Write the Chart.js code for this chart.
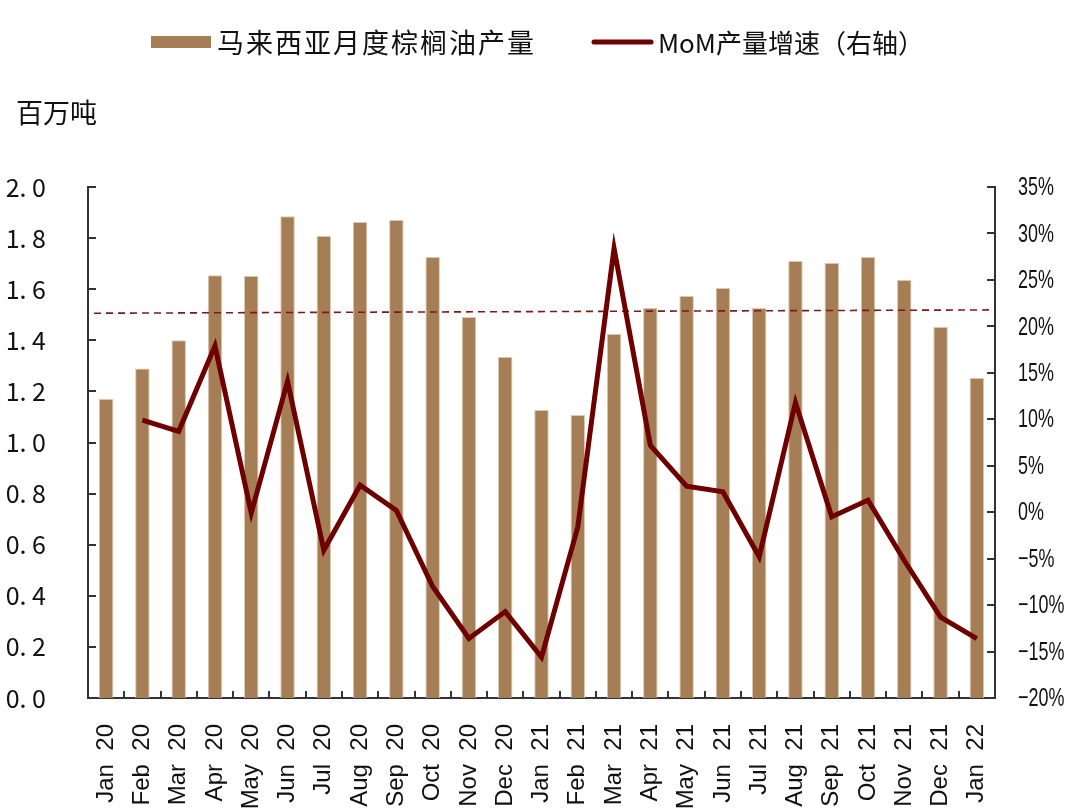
<!DOCTYPE html>
<html>
<head>
<meta charset="utf-8">
<script src="https://cdn.jsdelivr.net/npm/chart.js@4"></script>
<style>
  html, body { margin: 0; padding: 0; background: #fff; }
  #wrap { width: 1080px; height: 808px; }
</style>
</head>
<body>
<div id="wrap"><canvas id="myChart" width="1080" height="808"></canvas></div>
<script>
const months = ["Jan 20", "Feb 20", "Mar 20", "Apr 20", "May 20", "Jun 20", "Jul 20", "Aug 20", "Sep 20", "Oct 20", "Nov 20", "Dec 20",
  "Jan 21", "Feb 21", "Mar 21", "Apr 21", "May 21", "Jun 21", "Jul 21", "Aug 21", "Sep 21", "Oct 21", "Nov 21", "Dec 21", "Jan 22"];

// 马来西亚月度棕榈油产量, 百万吨
const output = [1.17, 1.29, 1.40, 1.655, 1.652, 1.886, 1.808, 1.863, 1.871, 1.726, 1.491, 1.335,
  1.127, 1.108, 1.425, 1.526, 1.573, 1.605, 1.526, 1.710, 1.703, 1.726, 1.636, 1.452, 1.252];

// MoM产量增速, %
const mom = [null, 9.9, 8.7, 17.9, -0.1, 14.1, -4.1, 2.9, 0.2, -8.0, -13.6, -10.7,
  -15.6, -1.6, 28.4, 7.2, 2.8, 2.2, -4.8, 11.8, -0.5, 1.3, -5.2, -11.3, -13.6];

// dashed reference line (left axis), start and end value
const refLine = [1.506, 1.519];

const leftTicks = [0, 0.2, 0.4, 0.6, 0.8, 1.0, 1.2, 1.4, 1.6, 1.8, 2.0];
const rightTicks = [-20, -15, -10, -5, 0, 5, 10, 15, 20, 25, 30, 35];

const barColor = "#a57e56";
const lineColor = "#6e0000";
const axisColor = "#333333";
const cjk = "'Noto Sans CJK SC', 'DejaVu Sans', sans-serif";
const latin = "'Liberation Sans', Arial, sans-serif";

function pctLabel(v) {
  return (v < 0 ? "\u2212" : "") + Math.abs(v) + "%";
}

const extras = {
  id: "extras",
  afterDatasetDraw(chart, args) {
    // dashed line sits between bars and the MoM line
    if (args.index !== 0) return;
    const { ctx, chartArea } = chart;
    const y = chart.scales.y;
    ctx.save();
    ctx.strokeStyle = "#7a1a1a";
    ctx.lineWidth = 1.6;
    ctx.setLineDash([7, 5]);
    ctx.beginPath();
    ctx.moveTo(chartArea.left + 6, y.getPixelForValue(refLine[0]));
    ctx.lineTo(chartArea.right, y.getPixelForValue(refLine[1]));
    ctx.stroke();
    ctx.restore();
  },
  afterDraw(chart) {
    const { ctx, chartArea } = chart;
    const x = chart.scales.x;
    const y = chart.scales.y;
    const y2 = chart.scales.y2;
    ctx.save();
    ctx.strokeStyle = axisColor;
    ctx.lineWidth = 2;
    ctx.beginPath();
    // left ticks, pointing in
    leftTicks.forEach((v) => {
      const py = Math.round(y.getPixelForValue(v));
      ctx.moveTo(chartArea.left, py);
      ctx.lineTo(chartArea.left + 8, py);
    });
    // right ticks, pointing in
    rightTicks.forEach((v) => {
      const py = Math.round(y2.getPixelForValue(v));
      ctx.moveTo(chartArea.right, py);
      ctx.lineTo(chartArea.right - 8, py);
    });
    // x ticks between categories, pointing up
    const step = (x.right - x.left) / months.length;
    for (let i = 0; i <= months.length; i++) {
      const px = Math.round(x.left + step * i);
      ctx.moveTo(px, chartArea.bottom);
      ctx.lineTo(px, chartArea.bottom - 7);
    }
    ctx.stroke();

    // right axis labels, condensed like the original
    ctx.fillStyle = "#111";
    ctx.font = "26px " + latin;
    ctx.textBaseline = "middle";
    ctx.textAlign = "left";
    rightTicks.forEach((v) => {
      ctx.save();
      ctx.translate(chartArea.right + 23, y2.getPixelForValue(v) + 1);
      ctx.scale(0.69, 1);
      ctx.fillText(pctLabel(v), 0, 0);
      ctx.restore();
    });

    // unit label
    ctx.font = "27px " + cjk;
    ctx.fillText("百万吨", 16, 113);

    // legend
    const ds = chart.data.datasets;
    ctx.font = "27px " + cjk;
    ctx.fillStyle = ds[0].backgroundColor;
    ctx.fillRect(151, 36, 60, 12);
    ctx.fillStyle = "#111";
    ctx.letterSpacing = "2px";
    ctx.fillText(ds[0].label, 217, 43);
    ctx.letterSpacing = "0px";
    ctx.strokeStyle = ds[1].borderColor;
    ctx.lineWidth = 5;
    ctx.lineCap = "round";
    ctx.beginPath();
    ctx.moveTo(594, 42);
    ctx.lineTo(651, 42);
    ctx.stroke();
    ctx.font = "26px " + cjk;
    ctx.fillText(ds[1].label, 658, 43);
    ctx.restore();
  },
};

new Chart("myChart", {
  type: "bar",
  data: {
    labels: months,
    datasets: [
      {
        type: "bar",
        label: "马来西亚月度棕榈油产量",
        data: output,
        yAxisID: "y",
        backgroundColor: barColor,
        borderColor: "#dcc8b0",
        borderWidth: 1,
        barPercentage: 0.4,
        categoryPercentage: 1,
        order: 2,
      },
      {
        type: "line",
        label: "MoM产量增速（右轴）",
        data: mom,
        yAxisID: "y2",
        borderColor: lineColor,
        backgroundColor: lineColor,
        borderWidth: 5,
        pointRadius: 0,
        tension: 0,
        borderJoinStyle: "miter",
        order: 1,
      },
    ],
  },
  options: {
    responsive: false,
    animation: false,
    layout: { padding: { top: 187, left: 0, right: 0, bottom: 0 } },
    plugins: {
      legend: { display: false },
      tooltip: { enabled: false },
    },
    scales: {
      x: {
        grid: { display: false },
        border: { display: true, color: axisColor, width: 2 },
        ticks: {
          color: "#111",
          font: { family: latin, size: 24 },
          maxRotation: 90,
          minRotation: 90,
          padding: 18,
          autoSkip: false,
          callback: (v, i) => months[i].replace(" ", "  "),
        },
        afterFit: (s) => { s.height = 110; },
      },
      y: {
        position: "left",
        min: 0,
        max: 2,
        grid: { display: false },
        border: { display: true, color: axisColor, width: 2 },
        afterBuildTicks: (s) => { s.ticks = leftTicks.map((v) => ({ value: v })); },
        ticks: {
          color: "#111",
          font: { family: cjk, size: 25 },
          padding: 34,
          callback: (v) => v.toFixed(1).replace(".", ". "),
        },
        afterFit: (s) => { s.width = 88; },
      },
      y2: {
        position: "right",
        min: -20,
        max: 35,
        grid: { display: false },
        border: { display: true, color: axisColor, width: 2 },
        afterBuildTicks: (s) => { s.ticks = rightTicks.map((v) => ({ value: v })); },
        ticks: { display: false },
        afterFit: (s) => { s.width = 85; },
      },
    },
  },
  plugins: [extras],
});
</script>
</body>
</html>
